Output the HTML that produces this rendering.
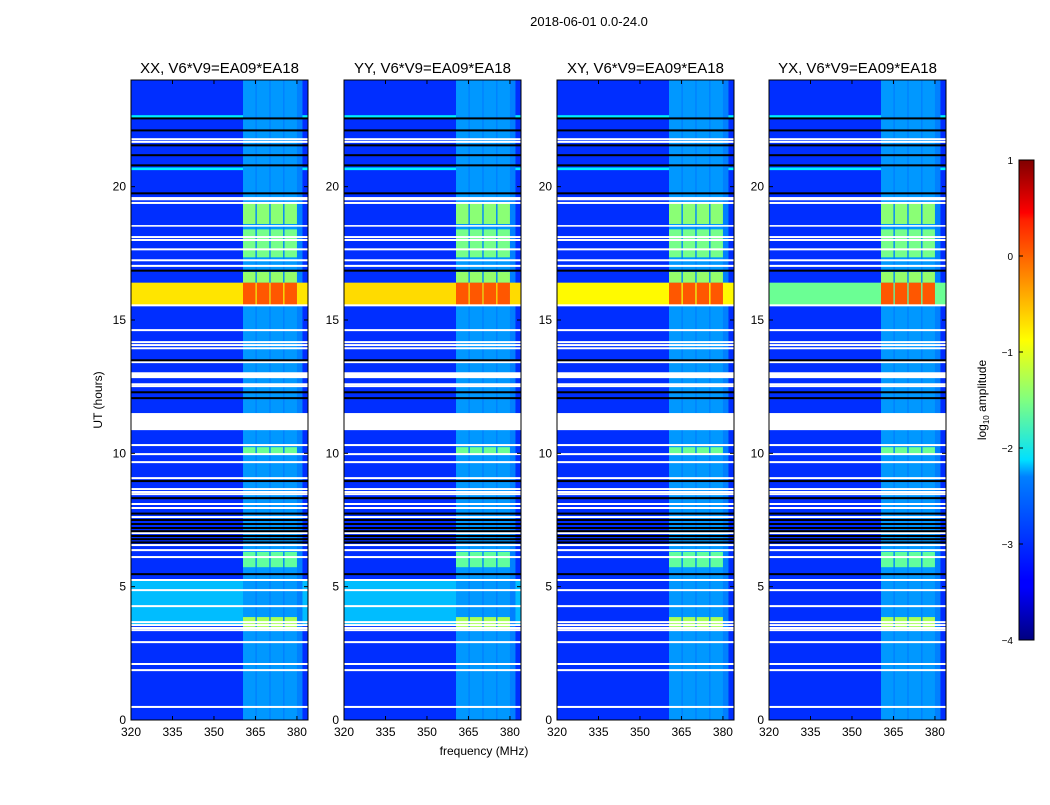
<!DOCTYPE html>
<html><head><meta charset="utf-8"><style>
body{margin:0;background:#fff;}
svg text{font-family:"Liberation Sans",sans-serif;}
</style></head><body>
<svg id="fig" width="1050" height="800" xmlns="http://www.w3.org/2000/svg">
<defs><linearGradient id="jet" x1="0" y1="1" x2="0" y2="0">
<stop offset="0" stop-color="#000080"/><stop offset="0.11" stop-color="#0000ff"/><stop offset="0.125" stop-color="#0000ff"/><stop offset="0.34" stop-color="#0080ff"/><stop offset="0.375" stop-color="#00e0ff"/><stop offset="0.5" stop-color="#80ff80"/><stop offset="0.625" stop-color="#ffff00"/><stop offset="0.66" stop-color="#ffe000"/><stop offset="0.875" stop-color="#ff2000"/><stop offset="0.89" stop-color="#ff0000"/><stop offset="1" stop-color="#800000"/></linearGradient></defs>
<text x="589" y="26" font-size="13" text-anchor="middle">2018-06-01 0.0-24.0</text>
<text x="484" y="755" font-size="12" text-anchor="middle">frequency (MHz)</text>
<text x="102" y="400" font-size="12" text-anchor="middle" transform="rotate(-90 102 400)">UT (hours)</text>
<rect x="1019" y="160" width="15" height="480" fill="url(#jet)" stroke="#000" stroke-width="1"/>
<text x="986" y="400" font-size="12" text-anchor="middle" transform="rotate(-90 986 400)">log<tspan font-size="8" dy="3">10</tspan><tspan dy="-3"> amplitude</tspan></text>
<g id="cbticks"></g>
</svg>
<script>
const titles=["XX, V6*V9=EA09*EA18","YY, V6*V9=EA09*EA18","XY, V6*V9=EA09*EA18","YX, V6*V9=EA09*EA18"];
const xTicks=[320,335,350,365,380];
const yTicks=[0,5,10,15,20];
const cbTicks=[1,0,-1,-2,-3,-4];
const baseLevel=-3.15;
const bandBase=-2.55;
const bandRange=[360.5,382];
const bands=[[360.5,365],[365.5,370],[370.5,375],[375.5,380]];
// time segments with brighter bands: [h0,h1,bandLevel]
const bandPatches=[[18.6,19.4,-1.45],[17.35,18.4,-1.55],[16.4,16.8,-1.4],[15.55,16.4,-0.05],[9.97,10.23,-1.6],[5.73,6.3,-1.65],[3.37,3.86,-1.3]];
// full-width segments: [h0,h1,level]
const rowSegs=[[22.56,22.68,-2.2],[20.62,20.72,-2.2]];
const rfiBg=[-0.75,-0.7,-0.85,-1.6];
const lowCyan=[-2.45,-2.45,-3.15,-3.15];
const whiteLines=[21.78,21.68,19.39,18.11,18.0,17.65,17.24,17.03,15.55,14.62,14.17,14.06,13.94,13.42,12.59,12.52,10.31,9.97,9.67,9.07,8.66,8.55,8.47,8.1,7.95,7.61,7.01,6.56,6.37,6.11,5.25,4.87,4.27,3.67,3.56,3.45,3.37,2.92,2.1,1.87,0.49];
const whiteBlocks=[[19.49,19.61],[18.5,18.56],[12.82,13.04],[10.87,11.51]];
const blackLines=[22.56,22.11,21.55,21.18,20.8,19.75,16.85,13.49,12.29,12.07,8.96,8.32,7.74,7.5,7.35,7.2,7.08,6.9,6.78,6.66,5.47];
const L=[131,344,557,769],T=80,W=177,H=640;
function jet(v){let t=(v+4)/5;t=Math.max(0,Math.min(1,t));
 const c=x=>Math.round(255*Math.max(0,Math.min(1,1.5-Math.abs(4*t-x))));
 return `rgb(${c(3)},${c(2)},${c(1)})`;}
const NS="http://www.w3.org/2000/svg";
const svg=document.getElementById('fig');
function mk(tag,attrs,parent){const e=document.createElementNS(NS,tag);for(const k in attrs)e.setAttribute(k,attrs[k]);parent.appendChild(e);return e;}
for(let p=0;p<4;p++){
 const x0=L[p];
 const xs=f=>x0+(f-320)/64*W;
 const ys=h=>T+H-h/24*H;
 const g=mk('g',{},svg);
 
 
 const bg=mk('rect',{x:x0,y:T,width:W,height:H,fill:jet(baseLevel)},g);
 
 
 const lc=mk('rect',{x:x0,y:ys(5.25),width:W,height:ys(3.56)-ys(5.25),fill:jet(lowCyan[p])},g);
 
 
 rowSegs.forEach(s=>{const r=mk('rect',{x:x0,y:ys(s[1]),width:W,height:ys(s[0])-ys(s[1]),fill:jet(s[2])},g);
  
  });
 const br=mk('rect',{x:xs(bandRange[0]),y:T,width:xs(bandRange[1])-xs(bandRange[0]),height:H,fill:jet(bandBase-0.2)},g);
 
 
 const rb=mk('rect',{x:x0,y:ys(16.4),width:W,height:ys(15.55)-ys(16.4),fill:jet(rfiBg[p])},g);
 
 
 bands.forEach(b=>{const r=mk('rect',{x:xs(b[0]),y:T,width:xs(b[1])-xs(b[0]),height:H,fill:jet(bandBase),opacity:0.6},g);
  
  
  bandPatches.forEach(s=>{const q=mk('rect',{x:xs(b[0]),y:ys(s[1]),width:xs(b[1])-xs(b[0]),height:ys(s[0])-ys(s[1]),fill:jet(s[2])},g);
   
   });});
 whiteBlocks.forEach(s=>{const r=mk('rect',{x:x0,y:ys(s[1]),width:W,height:ys(s[0])-ys(s[1]),fill:'#fff'},g);
  
  });
 whiteLines.forEach(h=>{const r=mk('rect',{x:x0,y:ys(h)-1,width:W,height:2,fill:'#fff'},g);
  
  });
 blackLines.forEach(h=>{const r=mk('rect',{x:x0,y:ys(h)-1,width:W,height:2,fill:'#000'},g);
  
  });
 const fr=mk('rect',{x:x0,y:T,width:W,height:H,fill:'none',stroke:'#000','stroke-width':1},g);
 
 
 const tt=mk('text',{x:x0+W/2,y:73,'font-size':15,'text-anchor':'middle'},g);tt.textContent=titles[p];
 
 
 xTicks.forEach(v=>{const x=xs(v);
  mk('line',{x1:x,x2:x,y1:T+H,y2:T+H-4,stroke:'#000'},g);mk('line',{x1:x,x2:x,y1:T,y2:T+4,stroke:'#000'},g);
  const t=mk('text',{x:x,y:T+H+16,'font-size':12,'text-anchor':'middle'},g);t.textContent=v;
  
  });
 yTicks.forEach(v=>{const y=ys(v);
  mk('line',{x1:x0,x2:x0+4,y1:y,y2:y,stroke:'#000'},g);mk('line',{x1:x0+W,x2:x0+W-4,y1:y,y2:y,stroke:'#000'},g);
  const t=mk('text',{x:x0-5,y:y+4,'font-size':12,'text-anchor':'end'},g);t.textContent=v;
  
  });
}
const cb=document.getElementById('cbticks');
cbTicks.forEach(v=>{const y=640-(v+4)/5*480;
 mk('line',{x1:1019,x2:1023,y1:y,y2:y,stroke:'#000'},cb);
 const t=mk('text',{x:1013,y:y+4,'font-size':10,'text-anchor':'end'},cb);t.textContent=v<0?'\u2212'+(-v):v;
 
 });
</script>
</body></html>
